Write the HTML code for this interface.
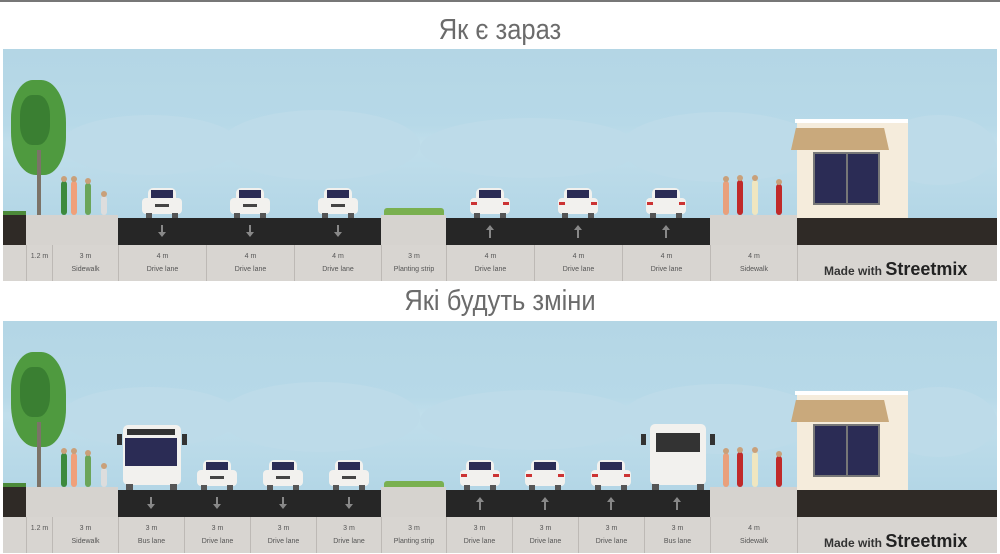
<!DOCTYPE html>
<html><head><meta charset="utf-8"><style>
*{margin:0;padding:0;box-sizing:border-box}
body{width:1000px;height:554px;background:#fff;position:relative;overflow:hidden;font-family:"Liberation Sans",sans-serif}
.a{position:absolute}
.title{position:absolute;left:0;width:1000px;text-align:center;font-size:29px;color:#6b6b6b;transform:scaleX(.88)}
.sky{position:absolute;left:3px;width:994px;background:linear-gradient(#b4d6e5,#b7d9e8 45%,#c0deeb 55%,#b3d6e6)}
.cl{position:absolute;border-radius:50%;background:#bddbe9}
.road{position:absolute;background:#262626}
.side{position:absolute;background:#d6d3cf}
.lab{position:absolute;background:#d8d5d1;border-left:1px solid #bdb9b5;text-align:center;font-size:7px;color:#555;line-height:13px;padding-top:5px}
.arr{position:absolute;width:2px;height:9px;background:#888}
.arr:after{content:"";position:absolute;left:-3px;border-left:4px solid transparent;border-right:4px solid transparent}
.dn:after{top:7px;border-top:5px solid #888}
.up:after{top:-4px;border-bottom:5px solid #888}
.car{position:absolute;width:40px;height:32px}
.car .b{position:absolute;left:0;top:12px;width:40px;height:16px;background:#f2f1ee;border-radius:4px}
.car .t{position:absolute;left:6px;top:2px;width:28px;height:12px;background:#f2f1ee;border-radius:5px 5px 0 0}
.car .w{position:absolute;left:9px;top:4px;width:22px;height:8px;background:#2b2c55}
.car .g{position:absolute;left:13px;top:18px;width:14px;height:3px;background:#444}
.car .l1,.car .l2{position:absolute;top:16px;width:6px;height:3px;background:#c33}
.car .l1{left:1px}.car .l2{right:1px}
.car .wh1,.car .wh2{position:absolute;top:27px;width:6px;height:5px;background:#555}
.car .wh1{left:4px}.car .wh2{right:4px}
.ppl{position:absolute;width:6px;border-radius:3px}
.ppl:before{content:"";position:absolute;left:0;top:-5px;width:6px;height:6px;border-radius:50%;background:#c9a07a}
.mw{position:absolute;font-size:12px;color:#333;font-weight:bold}
.mw b{font-size:18px;color:#222}
</style></head><body>
<div class="a" style="left:0;top:0;width:1000px;height:2px;background:#777"></div>

<div class="title" style="top:14px">Як є зараз</div>
<div class="title" style="top:285px">Які будуть зміни</div>

<!-- PANEL 1 -->
<div class="sky" style="top:49px;height:170px"></div>
<div class="cl" style="left:60px;top:115px;width:180px;height:60px"></div>
<div class="cl" style="left:220px;top:110px;width:200px;height:70px"></div>
<div class="cl" style="left:420px;top:118px;width:220px;height:60px"></div>
<div class="cl" style="left:620px;top:112px;width:200px;height:70px"></div>
<div class="cl" style="left:880px;top:115px;width:117px;height:70px"></div>
<div class="a" style="left:3px;top:213px;width:23px;height:32px;background:#2f2a26"></div>
<div class="a" style="left:3px;top:211px;width:23px;height:4px;background:#4c8a3a"></div>
<div class="side" style="left:26px;top:215px;width:92px;height:30px"></div>
<div class="road" style="left:118px;top:218px;width:263px;height:27px"></div>
<div class="side" style="left:381px;top:215px;width:65px;height:30px"></div>
<div class="road" style="left:446px;top:218px;width:264px;height:27px"></div>
<div class="side" style="left:710px;top:215px;width:87px;height:30px"></div>
<div class="a" style="left:797px;top:218px;width:200px;height:27px;background:#2f2a26"></div>
<div class="a" style="left:797px;top:122px;width:111px;height:96px;background:#f5ecdc"></div>
<div class="a" style="left:795px;top:119px;width:113px;height:4px;background:#fff"></div>
<div class="a" style="left:791px;top:128px;width:98px;height:22px;background:#c9a97c;clip-path:polygon(5% 0,95% 0,100% 100%,0 100%)"></div>
<div class="a" style="left:813px;top:152px;width:67px;height:53px;background:#2b2c55;border:2px solid #777"></div>
<div class="a" style="left:846px;top:152px;width:2px;height:53px;background:#777"></div>
<div class="a" style="left:11px;top:80px;width:55px;height:95px;background:#4f9a3f;border-radius:40% 45% 40% 45%"></div>
<div class="a" style="left:20px;top:95px;width:30px;height:50px;background:#3a7f32;border-radius:40%"></div>
<div class="a" style="left:37px;top:150px;width:4px;height:65px;background:#7c7368"></div>
<div class="ppl" style="left:61px;top:181px;height:34px;background:#3d8a3d"></div>
<div class="ppl" style="left:71px;top:181px;height:34px;background:#f0a07a"></div>
<div class="ppl" style="left:85px;top:183px;height:32px;background:#6ba55a"></div>
<div class="ppl" style="left:101px;top:196px;height:19px;background:#ddd"></div>
<div class="ppl" style="left:723px;top:181px;height:34px;background:#e9a07c"></div>
<div class="ppl" style="left:737px;top:180px;height:35px;background:#c02a2a"></div>
<div class="ppl" style="left:752px;top:180px;height:35px;background:#efe6c0"></div>
<div class="ppl" style="left:776px;top:184px;height:31px;background:#c02a2a"></div>
<div class="a" style="left:384px;top:208px;width:60px;height:7px;background:#7ab050;border-radius:3px 3px 0 0"></div>
<div class="car" style="left:142px;top:186px"><div class="t"></div><div class="w"></div><div class="b"></div><div class="g"></div><div class="wh1"></div><div class="wh2"></div></div>
<div class="car" style="left:230px;top:186px"><div class="t"></div><div class="w"></div><div class="b"></div><div class="g"></div><div class="wh1"></div><div class="wh2"></div></div>
<div class="car" style="left:318px;top:186px"><div class="t"></div><div class="w"></div><div class="b"></div><div class="g"></div><div class="wh1"></div><div class="wh2"></div></div>
<div class="car" style="left:470px;top:186px"><div class="t"></div><div class="w"></div><div class="b"></div><div class="l1"></div><div class="l2"></div><div class="wh1"></div><div class="wh2"></div></div>
<div class="car" style="left:558px;top:186px"><div class="t"></div><div class="w"></div><div class="b"></div><div class="l1"></div><div class="l2"></div><div class="wh1"></div><div class="wh2"></div></div>
<div class="car" style="left:646px;top:186px"><div class="t"></div><div class="w"></div><div class="b"></div><div class="l1"></div><div class="l2"></div><div class="wh1"></div><div class="wh2"></div></div>
<div class="arr dn" style="left:161px;top:225px"></div>
<div class="arr dn" style="left:249px;top:225px"></div>
<div class="arr dn" style="left:337px;top:225px"></div>
<div class="arr up" style="left:489px;top:229px"></div>
<div class="arr up" style="left:577px;top:229px"></div>
<div class="arr up" style="left:665px;top:229px"></div>
<div class="lab" style="left:3px;top:245px;width:23px;height:36px;border-left:none"></div>
<div class="lab" style="left:26px;top:245px;width:26px;height:36px">1.2 m</div>
<div class="lab" style="left:52px;top:245px;width:66px;height:36px">3 m<br>Sidewalk</div>
<div class="lab" style="left:118px;top:245px;width:88px;height:36px">4 m<br>Drive lane</div>
<div class="lab" style="left:206px;top:245px;width:88px;height:36px">4 m<br>Drive lane</div>
<div class="lab" style="left:294px;top:245px;width:87px;height:36px">4 m<br>Drive lane</div>
<div class="lab" style="left:381px;top:245px;width:65px;height:36px">3 m<br>Planting strip</div>
<div class="lab" style="left:446px;top:245px;width:88px;height:36px">4 m<br>Drive lane</div>
<div class="lab" style="left:534px;top:245px;width:88px;height:36px">4 m<br>Drive lane</div>
<div class="lab" style="left:622px;top:245px;width:88px;height:36px">4 m<br>Drive lane</div>
<div class="lab" style="left:710px;top:245px;width:87px;height:36px">4 m<br>Sidewalk</div>
<div class="lab" style="left:797px;top:245px;width:200px;height:36px"></div>
<div class="mw" style="left:824px;top:259px">Made with <b>Streetmix</b></div>

<!-- PANEL 2 -->
<div class="sky" style="top:321px;height:170px"></div>
<div class="cl" style="left:60px;top:387px;width:180px;height:60px"></div>
<div class="cl" style="left:220px;top:382px;width:200px;height:70px"></div>
<div class="cl" style="left:420px;top:390px;width:220px;height:60px"></div>
<div class="cl" style="left:620px;top:384px;width:200px;height:70px"></div>
<div class="cl" style="left:880px;top:387px;width:117px;height:70px"></div>
<div class="a" style="left:3px;top:485px;width:23px;height:32px;background:#2f2a26"></div>
<div class="a" style="left:3px;top:483px;width:23px;height:4px;background:#4c8a3a"></div>
<div class="side" style="left:26px;top:487px;width:92px;height:30px"></div>
<div class="road" style="left:118px;top:490px;width:263px;height:27px"></div>
<div class="side" style="left:381px;top:487px;width:65px;height:30px"></div>
<div class="road" style="left:446px;top:490px;width:264px;height:27px"></div>
<div class="side" style="left:710px;top:487px;width:87px;height:30px"></div>
<div class="a" style="left:797px;top:490px;width:200px;height:27px;background:#2f2a26"></div>
<div class="a" style="left:797px;top:394px;width:111px;height:96px;background:#f5ecdc"></div>
<div class="a" style="left:795px;top:391px;width:113px;height:4px;background:#fff"></div>
<div class="a" style="left:791px;top:400px;width:98px;height:22px;background:#c9a97c;clip-path:polygon(5% 0,95% 0,100% 100%,0 100%)"></div>
<div class="a" style="left:813px;top:424px;width:67px;height:53px;background:#2b2c55;border:2px solid #777"></div>
<div class="a" style="left:846px;top:424px;width:2px;height:53px;background:#777"></div>
<div class="a" style="left:11px;top:352px;width:55px;height:95px;background:#4f9a3f;border-radius:40% 45% 40% 45%"></div>
<div class="a" style="left:20px;top:367px;width:30px;height:50px;background:#3a7f32;border-radius:40%"></div>
<div class="a" style="left:37px;top:422px;width:4px;height:65px;background:#7c7368"></div>
<div class="ppl" style="left:61px;top:453px;height:34px;background:#3d8a3d"></div>
<div class="ppl" style="left:71px;top:453px;height:34px;background:#f0a07a"></div>
<div class="ppl" style="left:85px;top:455px;height:32px;background:#6ba55a"></div>
<div class="ppl" style="left:101px;top:468px;height:19px;background:#ddd"></div>
<div class="ppl" style="left:723px;top:453px;height:34px;background:#e9a07c"></div>
<div class="ppl" style="left:737px;top:452px;height:35px;background:#c02a2a"></div>
<div class="ppl" style="left:752px;top:452px;height:35px;background:#efe6c0"></div>
<div class="ppl" style="left:776px;top:456px;height:31px;background:#c02a2a"></div>
<div class="a" style="left:384px;top:481px;width:60px;height:6px;background:#7ab050;border-radius:3px 3px 0 0"></div>
<div class="a" style="left:123px;top:425px;width:58px;height:60px;background:#f2f1ee;border-radius:5px"></div>
<div class="a" style="left:127px;top:429px;width:48px;height:6px;background:#333"></div>
<div class="a" style="left:125px;top:438px;width:52px;height:28px;background:#2b2c55"></div>
<div class="a" style="left:117px;top:434px;width:5px;height:11px;background:#333"></div>
<div class="a" style="left:182px;top:434px;width:5px;height:11px;background:#333"></div>
<div class="a" style="left:126px;top:484px;width:7px;height:6px;background:#555"></div>
<div class="a" style="left:170px;top:484px;width:7px;height:6px;background:#555"></div>
<div class="a" style="left:650px;top:424px;width:56px;height:61px;background:#f2f1ee;border-radius:5px"></div>
<div class="a" style="left:656px;top:433px;width:44px;height:19px;background:#333"></div>
<div class="a" style="left:641px;top:434px;width:5px;height:11px;background:#333"></div>
<div class="a" style="left:710px;top:434px;width:5px;height:11px;background:#333"></div>
<div class="a" style="left:652px;top:484px;width:7px;height:6px;background:#555"></div>
<div class="a" style="left:697px;top:484px;width:7px;height:6px;background:#555"></div>
<div class="car" style="left:197px;top:458px"><div class="t"></div><div class="w"></div><div class="b"></div><div class="g"></div><div class="wh1"></div><div class="wh2"></div></div>
<div class="car" style="left:263px;top:458px"><div class="t"></div><div class="w"></div><div class="b"></div><div class="g"></div><div class="wh1"></div><div class="wh2"></div></div>
<div class="car" style="left:329px;top:458px"><div class="t"></div><div class="w"></div><div class="b"></div><div class="g"></div><div class="wh1"></div><div class="wh2"></div></div>
<div class="car" style="left:460px;top:458px"><div class="t"></div><div class="w"></div><div class="b"></div><div class="l1"></div><div class="l2"></div><div class="wh1"></div><div class="wh2"></div></div>
<div class="car" style="left:525px;top:458px"><div class="t"></div><div class="w"></div><div class="b"></div><div class="l1"></div><div class="l2"></div><div class="wh1"></div><div class="wh2"></div></div>
<div class="car" style="left:591px;top:458px"><div class="t"></div><div class="w"></div><div class="b"></div><div class="l1"></div><div class="l2"></div><div class="wh1"></div><div class="wh2"></div></div>
<div class="arr dn" style="left:150px;top:497px"></div>
<div class="arr dn" style="left:216px;top:497px"></div>
<div class="arr dn" style="left:282px;top:497px"></div>
<div class="arr dn" style="left:348px;top:497px"></div>
<div class="arr up" style="left:479px;top:501px"></div>
<div class="arr up" style="left:544px;top:501px"></div>
<div class="arr up" style="left:610px;top:501px"></div>
<div class="arr up" style="left:676px;top:501px"></div>
<div class="lab" style="left:3px;top:517px;width:23px;height:36px;border-left:none"></div>
<div class="lab" style="left:26px;top:517px;width:26px;height:36px">1.2 m</div>
<div class="lab" style="left:52px;top:517px;width:66px;height:36px">3 m<br>Sidewalk</div>
<div class="lab" style="left:118px;top:517px;width:66px;height:36px">3 m<br>Bus lane</div>
<div class="lab" style="left:184px;top:517px;width:66px;height:36px">3 m<br>Drive lane</div>
<div class="lab" style="left:250px;top:517px;width:66px;height:36px">3 m<br>Drive lane</div>
<div class="lab" style="left:316px;top:517px;width:65px;height:36px">3 m<br>Drive lane</div>
<div class="lab" style="left:381px;top:517px;width:65px;height:36px">3 m<br>Planting strip</div>
<div class="lab" style="left:446px;top:517px;width:66px;height:36px">3 m<br>Drive lane</div>
<div class="lab" style="left:512px;top:517px;width:66px;height:36px">3 m<br>Drive lane</div>
<div class="lab" style="left:578px;top:517px;width:66px;height:36px">3 m<br>Drive lane</div>
<div class="lab" style="left:644px;top:517px;width:66px;height:36px">3 m<br>Bus lane</div>
<div class="lab" style="left:710px;top:517px;width:87px;height:36px">4 m<br>Sidewalk</div>
<div class="lab" style="left:797px;top:517px;width:200px;height:36px"></div>
<div class="mw" style="left:824px;top:531px">Made with <b>Streetmix</b></div>
</body></html>
